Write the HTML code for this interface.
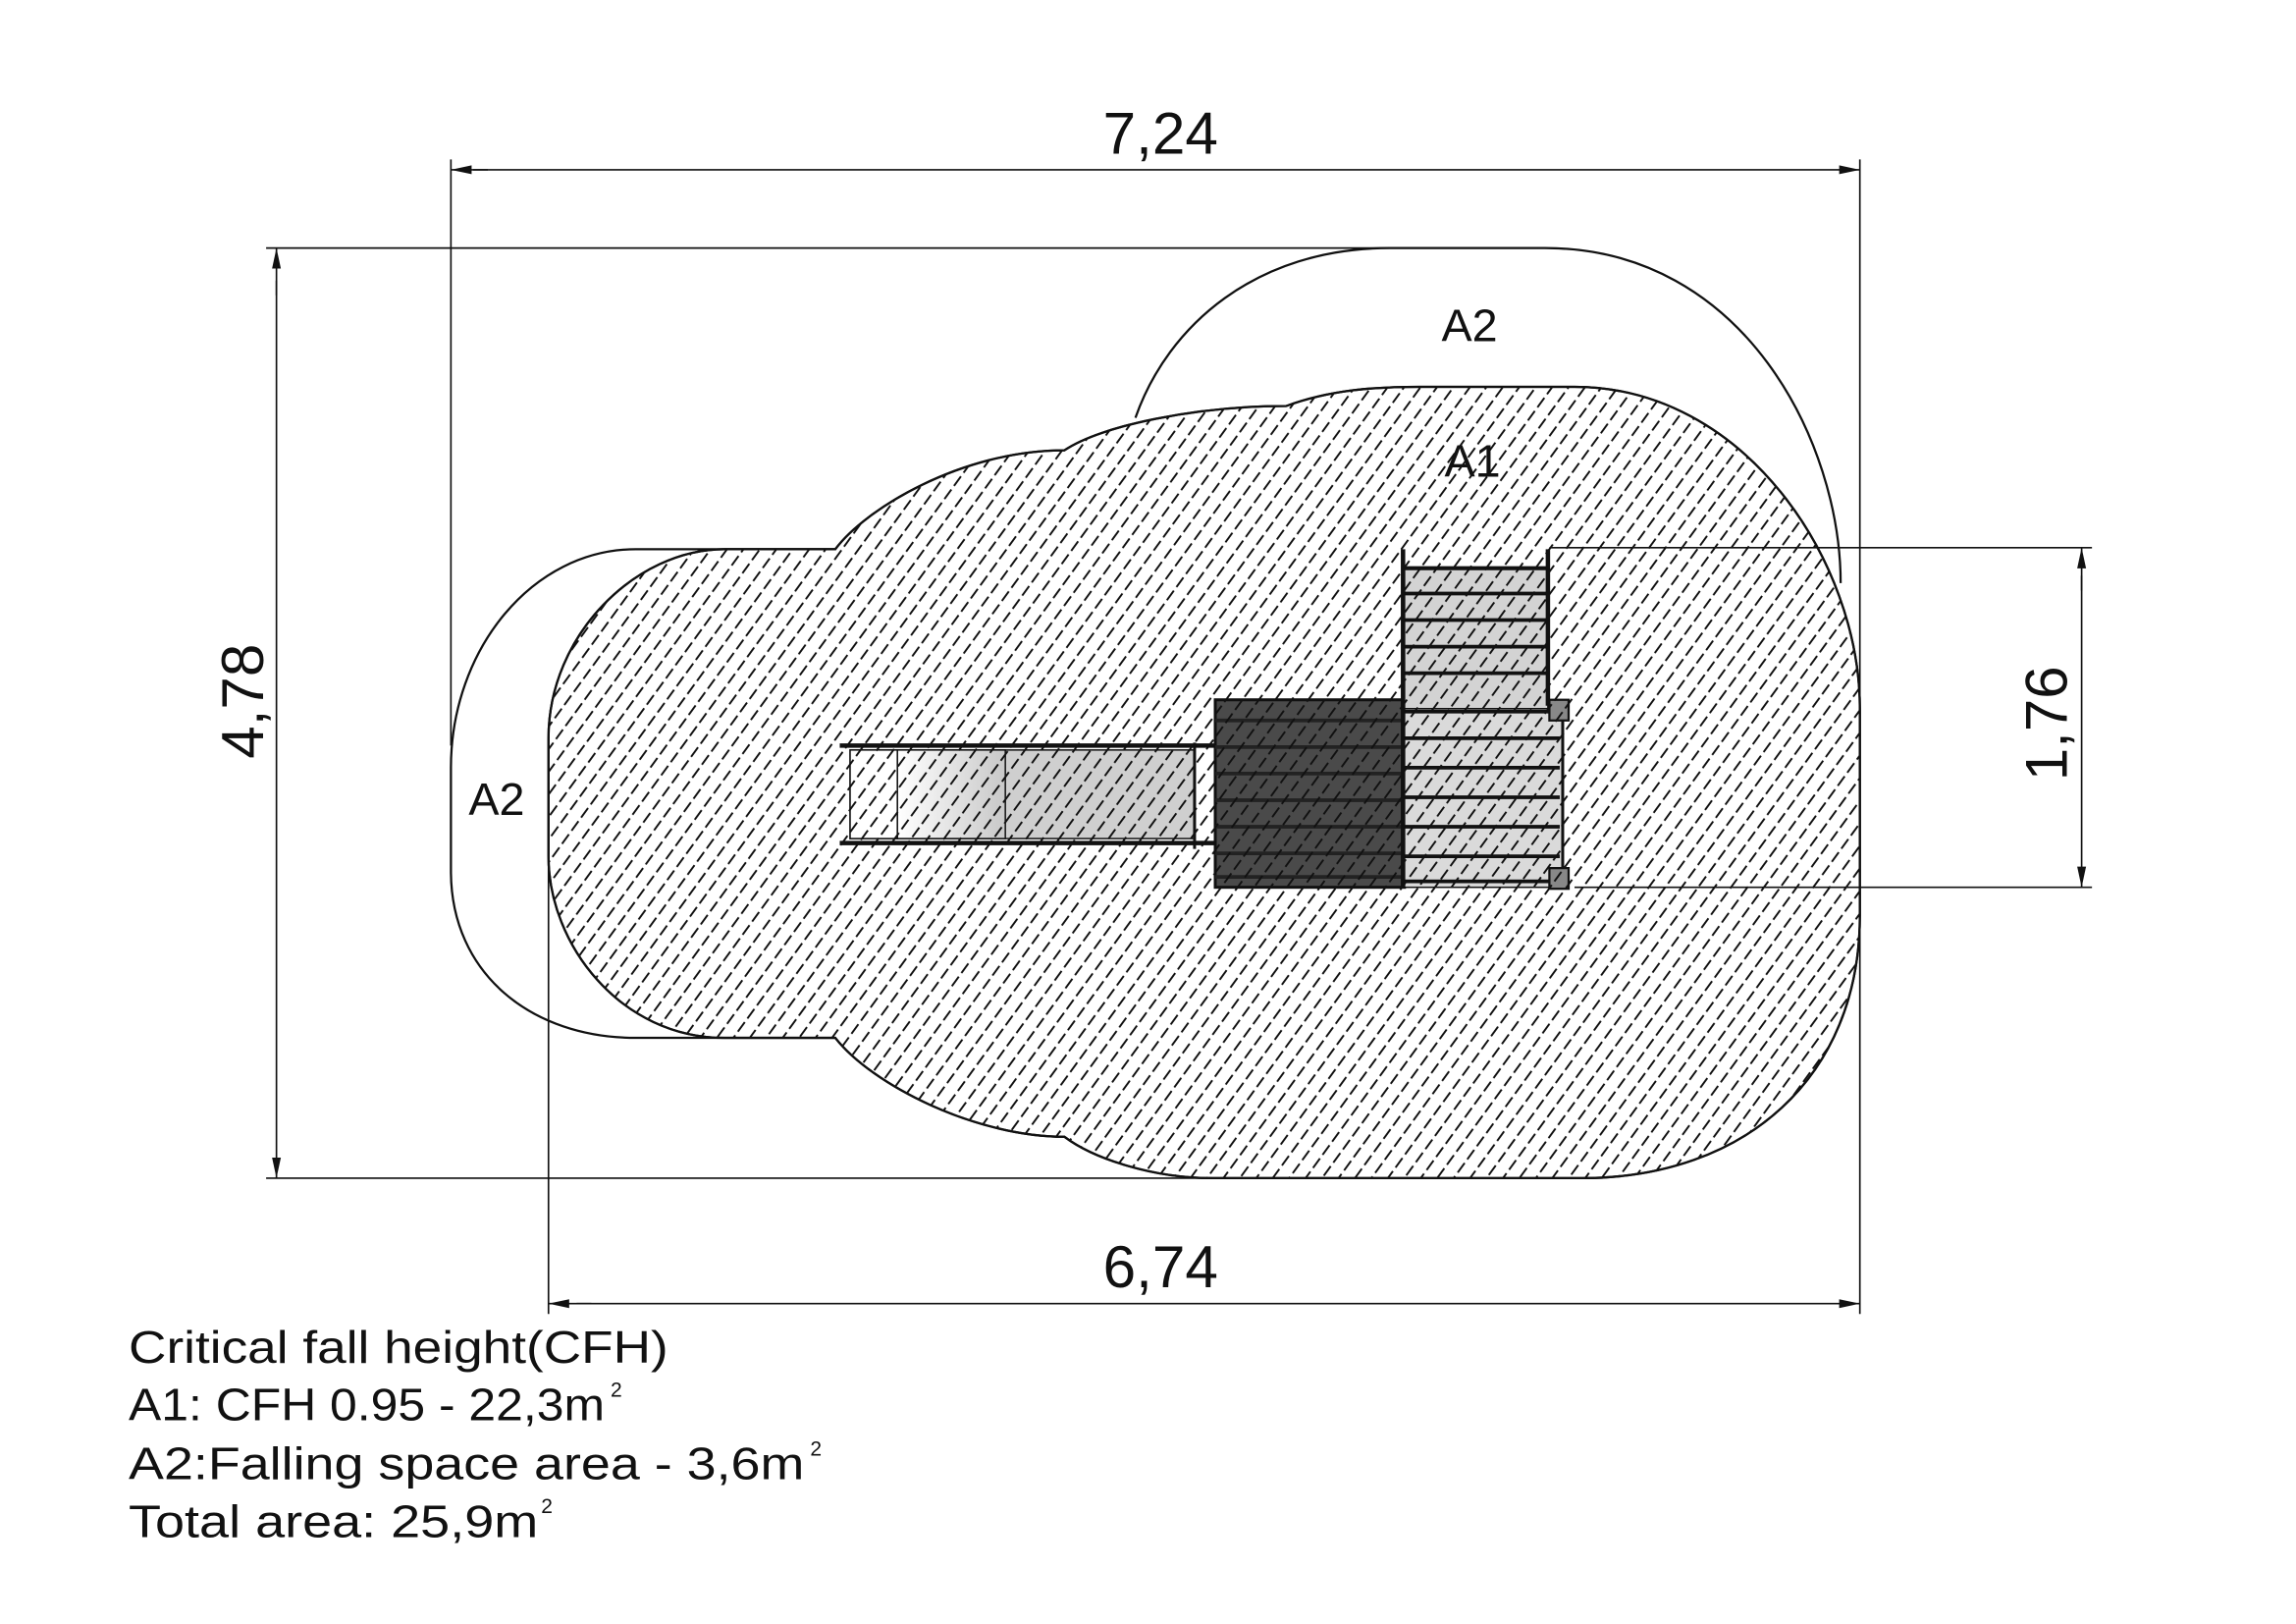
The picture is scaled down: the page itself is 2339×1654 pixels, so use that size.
<!DOCTYPE html>
<html><head><meta charset="utf-8"><style>
html,body{margin:0;padding:0;background:#fff;}
svg{display:block;}
text{font-family:"Liberation Sans",sans-serif;fill:#111;}
</style></head><body>
<svg width="2339" height="1654" viewBox="0 0 1553 1100" preserveAspectRatio="none" xmlns="http://www.w3.org/2000/svg">
<defs>
<pattern id="h" width="9" height="22" patternUnits="userSpaceOnUse" patternTransform="rotate(36)">
<line x1="4.5" y1="0" x2="4.5" y2="22" stroke="#111" stroke-width="1.3" stroke-dasharray="8 3"/>
</pattern>
<linearGradient id="g" x1="0" x2="1" y1="0" y2="0"><stop offset="0" stop-color="#fff"/><stop offset="1" stop-color="#c8c8c8"/></linearGradient>
<marker id="a" markerWidth="14" markerHeight="8" refX="14" refY="4" orient="auto" markerUnits="userSpaceOnUse"><path d="M0,1 L14,4 L0,7 Z" fill="#111"/></marker>
<path id="a1" d="M490 372 L565 372 C585 345 650 305 720 305 C745 288 810 275 870 275 C900 264 930 262 960 262 L1065 262 C1180 262 1258 380 1258 480 L1258 620 C1258 730 1180 798 1070 798 L820 798 C780 798 740 785 720 770 C660 770 590 735 565 703 L490 703 C420 703 371 640 371 580 L371 500 C371 430 430 372 490 372 Z"/>
</defs>
<g stroke="#111" stroke-width="1.5" fill="none">
<path d="M768 283 C790 220 850 168 940 168 L1045 168 C1180 168 1245 300 1245 395"/>
<path d="M565 372 L430 372 C360 372 305 440 305 520 L305 590 C305 660 360 703 430 703 L565 703"/>
<use href="#a1" fill="#fff"/>
</g>
<g stroke="#111">
<rect x="575" y="508" width="233" height="60" fill="#cfcfcf" stroke-width="1"/>
<rect x="575" y="508" width="32" height="60" fill="#fff" stroke-width="1"/>
<rect x="607" y="508" width="73" height="60" fill="url(#g)" stroke-width="1"/>
<line x1="568" y1="505" x2="822" y2="505" stroke-width="3"/>
<line x1="568" y1="571" x2="822" y2="571" stroke-width="3"/>
<line x1="808" y1="503" x2="808" y2="575" stroke-width="2"/>
<rect x="822" y="474" width="128" height="127" fill="#4a4a4a" stroke-width="2"/>
<g stroke="#222" stroke-width="2.5">
<line x1="822" y1="488" x2="950" y2="488"/><line x1="822" y1="506" x2="950" y2="506"/><line x1="822" y1="524" x2="950" y2="524"/><line x1="822" y1="542" x2="950" y2="542"/><line x1="822" y1="560" x2="950" y2="560"/><line x1="822" y1="578" x2="950" y2="578"/><line x1="822" y1="594" x2="950" y2="594"/>
</g>
<rect x="950" y="384" width="97" height="96" fill="#d3d3d3" stroke-width="1"/>
<rect x="950" y="480" width="107" height="121" fill="#dadada" stroke-width="1"/>
<g stroke-width="2.5">
<line x1="950" y1="385" x2="1047" y2="385"/><line x1="950" y1="402" x2="1047" y2="402"/><line x1="950" y1="420" x2="1047" y2="420"/><line x1="950" y1="438" x2="1047" y2="438"/><line x1="950" y1="456" x2="1047" y2="456"/>
<line x1="950" y1="482" x2="1055" y2="482"/><line x1="950" y1="500" x2="1055" y2="500"/><line x1="950" y1="520" x2="1055" y2="520"/><line x1="950" y1="540" x2="1055" y2="540"/><line x1="950" y1="560" x2="1055" y2="560"/><line x1="950" y1="580" x2="1055" y2="580"/><line x1="950" y1="597" x2="1055" y2="597"/>
<line x1="949" y1="372" x2="949" y2="601" stroke-width="3"/>
<line x1="1047" y1="372" x2="1047" y2="478" stroke-width="3"/>
<line x1="1057" y1="485" x2="1057" y2="595" stroke-width="2"/>
</g>
<rect x="1048" y="474" width="13" height="14" fill="#888" stroke-width="1.5"/>
<rect x="1048" y="588" width="13" height="14" fill="#888" stroke-width="1.5"/>
</g>
<use href="#a1" fill="url(#h)" stroke="none"/>
<use href="#a1" fill="none" stroke="#111" stroke-width="1.5"/>
<g stroke="#111" stroke-width="1.1" fill="none">
<line x1="305" y1="108" x2="305" y2="505"/><line x1="1258" y1="108" x2="1258" y2="600"/>
<line x1="330" y1="115" x2="305" y2="115" marker-end="url(#a)"/><line x1="320" y1="115" x2="1258" y2="115" marker-end="url(#a)"/>
<line x1="180" y1="168" x2="1040" y2="168"/><line x1="180" y1="798" x2="830" y2="798"/>
<line x1="187" y1="200" x2="187" y2="168" marker-end="url(#a)"/><line x1="187" y1="190" x2="187" y2="798" marker-end="url(#a)"/>
<line x1="371" y1="530" x2="371" y2="890"/><line x1="1258" y1="600" x2="1258" y2="890"/>
<line x1="400" y1="883" x2="371" y2="883" marker-end="url(#a)"/><line x1="390" y1="883" x2="1258" y2="883" marker-end="url(#a)"/>
<line x1="1048" y1="371" x2="1415" y2="371"/><line x1="1065" y1="601" x2="1415" y2="601"/>
<line x1="1408" y1="400" x2="1408" y2="371" marker-end="url(#a)"/><line x1="1408" y1="390" x2="1408" y2="601" marker-end="url(#a)"/>
</g>
<g font-size="40">
<text x="785" y="104" text-anchor="middle">7,24</text>
<text x="785" y="872" text-anchor="middle">6,74</text>
<text transform="translate(178,475) rotate(-90)" text-anchor="middle">4,78</text>
<text transform="translate(1398,490) rotate(-90)" text-anchor="middle">1,76</text>
</g>
<g font-size="31">
<text x="975" y="231">A2</text>
<text x="977" y="323">A1</text>
<text x="317" y="552">A2</text>
</g>
<g font-size="31">
<text x="87" y="923" textLength="365" lengthAdjust="spacingAndGlyphs">Critical fall height(CFH)</text>
<text x="87" y="962" textLength="322" lengthAdjust="spacingAndGlyphs">A1: CFH 0.95 - 22,3m</text><text x="413" y="946" font-size="14">2</text>
<text x="87" y="1002" textLength="457" lengthAdjust="spacingAndGlyphs">A2:Falling space area - 3,6m</text><text x="548" y="986" font-size="14">2</text>
<text x="87" y="1041" textLength="277" lengthAdjust="spacingAndGlyphs">Total area: 25,9m</text><text x="366" y="1025" font-size="14">2</text>
</g>
</svg>
</body></html>
